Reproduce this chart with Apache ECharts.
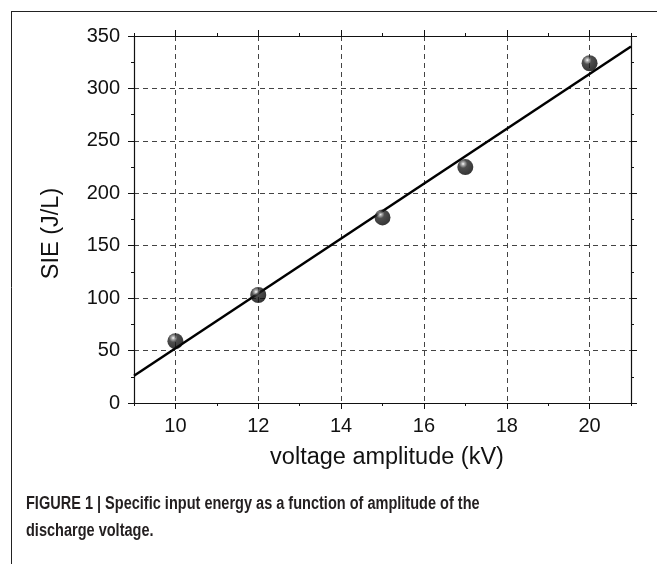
<!DOCTYPE html>
<html>
<head>
<meta charset="utf-8">
<script src="https://cdn.jsdelivr.net/npm/echarts@6/dist/echarts.min.js"></script>
<style>
  html, body { margin: 0; padding: 0; background: #fff; }
  #chart { width: 657px; height: 564px; }
</style>
</head>
<body>
<div id="chart"></div>
<script>
// measured points
const voltage = [10, 12, 15, 17, 20];
const sie = [59, 103, 177, 225, 324];
// linear fit, read at the ends of the plot
const fitVoltage = [9, 21];
const fitSie = [26, 340];
// tick labels
const xMajor = [10, 12, 14, 16, 18, 20];
const xMinor = [9, 11, 13, 15, 17, 19, 21];

const font = '"Liberation Sans", Arial, sans-serif';

const chart = echarts.init(document.getElementById('chart'));

const grid = { left: 134, right: 26, top: 36, bottom: 161 };

function xAxisOf(pos, major) {
  return {
    type: 'value', position: pos, min: 9, max: 21, interval: 2,
    axisLine: { show: major, onZero: false, lineStyle: { color: '#111', width: 1.2 } },
    axisTick: {
      show: true, inside: false, length: major ? 6 : 3,
      customValues: major ? xMajor : xMinor,
      lineStyle: { color: '#111', width: 1 }
    },
    axisLabel: {
      show: major && pos === 'bottom', customValues: xMajor, margin: 13,
      color: '#111', fontSize: 20, fontFamily: font
    },
    splitLine: {
      show: major && pos === 'bottom',
      lineStyle: { color: '#444', type: [5, 4], width: 1 }
    },
    name: major && pos === 'bottom' ? 'voltage amplitude (kV)' : '',
    nameLocation: 'middle', nameGap: 43,
    nameTextStyle: { color: '#111', fontSize: 23.5, fontFamily: font, padding: [0, 0, 0, 9] }
  };
}

function yAxisOf(pos) {
  const left = pos === 'left';
  return {
    type: 'value', position: pos, min: 0, max: 350, interval: 50,
    axisLine: { show: true, onZero: false, lineStyle: { color: '#111', width: 1.2 } },
    axisTick: { show: true, inside: false, length: 6, lineStyle: { color: '#111' } },
    minorTick: { show: true, splitNumber: 2, length: 3, lineStyle: { color: '#111' } },
    axisLabel: {
      show: left, margin: 14, color: '#111', fontSize: 20, fontFamily: font
    },
    splitLine: {
      show: left, lineStyle: { color: '#444', type: [5, 4], width: 1 }
    },
    name: left ? 'SIE (J/L)' : '',
    nameLocation: 'middle', nameGap: 70,
    nameTextStyle: { color: '#111', fontSize: 23.5, fontFamily: font, padding: [0, 28, 0, 0] }
  };
}

chart.setOption({
  backgroundColor: '#fff',
  animation: false,
  grid: grid,
  xAxis: [
    xAxisOf('bottom', true),
    xAxisOf('bottom', false),
    xAxisOf('top', true),
    xAxisOf('top', false)
  ],
  yAxis: [yAxisOf('left'), yAxisOf('right')],
  graphic: [
    { type: 'line', shape: { x1: 11.5, y1: 11, x2: 11.5, y2: 564 },
      style: { stroke: '#222', lineWidth: 1 } },
    { type: 'line', shape: { x1: 11, y1: 11.5, x2: 657, y2: 11.5 },
      style: { stroke: '#222', lineWidth: 1 } },
    {
      type: 'text', x: 26, y: 491, scaleX: 0.83, originX: 0, originY: 0,
      style: {
        text: 'FIGURE 1 | Specific input energy as a function of amplitude of the\ndischarge voltage.',
        font: 'bold 17.5px "Liberation Sans", Arial, sans-serif',
        fill: '#231f20', lineHeight: 27
      }
    }
  ],
  series: [
    {
      type: 'line',
      data: fitVoltage.map((v, i) => [v, fitSie[i]]),
      showSymbol: false,
      lineStyle: { color: '#000', width: 2.5 },
      z: 2, silent: true
    },
    {
      type: 'scatter',
      data: voltage.map((v, i) => [v, sie[i]]),
      symbolSize: 16,
      itemStyle: {
        color: {
          type: 'radial', x: 0.36, y: 0.3, r: 0.75,
          colorStops: [
            { offset: 0, color: '#ffffff' },
            { offset: 0.12, color: '#a0a0a0' },
            { offset: 0.35, color: '#222' },
            { offset: 1, color: '#000' }
          ]
        }
      },
      z: 3
    }
  ]
});
</script>
</body>
</html>
